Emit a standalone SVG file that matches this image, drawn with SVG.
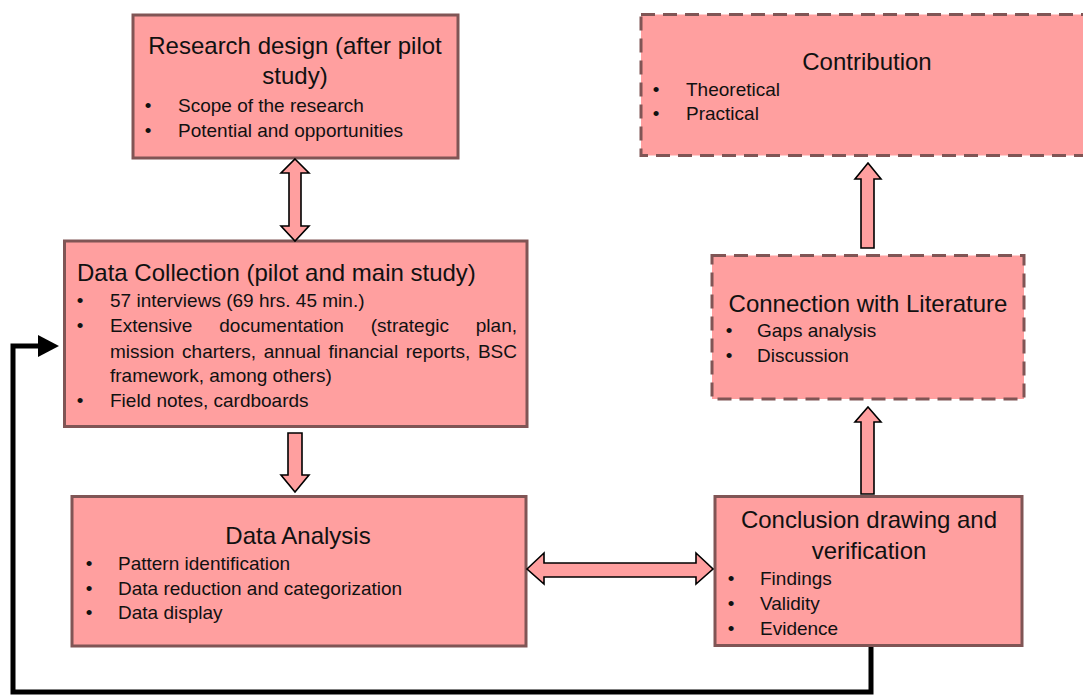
<svg xmlns="http://www.w3.org/2000/svg" width="1083" height="695" viewBox="0 0 1083 695">
<style>
.box{fill:#FF9F9F;stroke:#805555;stroke-width:3}
.dash{stroke-dasharray:14 8}
.t{font-family:"Liberation Sans",Arial,sans-serif;fill:#111}
.title{font-size:24px}
.b{font-size:19px}
.c{text-anchor:middle}
.arrow{fill:#FF9F9F;stroke:#000;stroke-width:1.6;stroke-linejoin:miter}
.fb{fill:none;stroke:#000;stroke-width:5;stroke-linejoin:miter}
</style>
<rect width="1083" height="695" fill="#fff"/>
<g id="research-design">
<rect class="box" x="133" y="15" width="325" height="143"/>
<text class="t title c" x="295" y="54">Research design (after pilot</text>
<text class="t title c" x="295" y="84">study)</text>
<text class="t b c" x="148" y="112">•</text><text class="t b" x="178" y="112">Scope of the research</text>
<text class="t b c" x="148" y="137">•</text><text class="t b" x="178" y="137">Potential and opportunities</text>
</g>
<g id="contribution">
<rect class="box dash" x="641" y="14.5" width="450" height="141"/>
<text class="t title c" x="867" y="70">Contribution</text>
<text class="t b c" x="656" y="96">•</text><text class="t b" x="686" y="96">Theoretical</text>
<text class="t b c" x="656" y="120">•</text><text class="t b" x="686" y="120">Practical</text>
</g>
<g id="data-collection">
<rect class="box" x="64.5" y="241" width="462.5" height="185.5"/>
<text class="t title" x="77" y="281">Data Collection (pilot and main study)</text>
<text class="t b c" x="80" y="307">•</text><text class="t b" x="110" y="307">57 interviews (69 hrs. 45 min.)</text>
<text class="t b c" x="80" y="332">•</text>
<text class="t b" y="332"><tspan x="110">Extensive</tspan><tspan x="219.3">documentation</tspan><tspan x="370.8">(strategic</tspan><tspan x="475.8">plan,</tspan></text>
<text class="t b" y="358"><tspan x="110">mission</tspan><tspan x="182.1">charters,</tspan><tspan x="263.7">annual</tspan><tspan x="328.4">financial</tspan><tspan x="405.8">reports,</tspan><tspan x="477.9">BSC</tspan></text>
<text class="t b" x="110" y="382">framework, among others)</text>
<text class="t b c" x="80" y="407">•</text><text class="t b" x="110" y="407">Field notes, cardboards</text>
</g>
<g id="connection-literature">
<rect class="box dash" x="712" y="255.5" width="312" height="143.5"/>
<text class="t title c" x="868" y="312">Connection with Literature</text>
<text class="t b c" x="729" y="337">•</text><text class="t b" x="757" y="337">Gaps analysis</text>
<text class="t b c" x="729" y="362">•</text><text class="t b" x="757" y="362">Discussion</text>
</g>
<g id="data-analysis">
<rect class="box" x="72" y="496.5" width="454" height="149.5"/>
<text class="t title c" x="298" y="544">Data Analysis</text>
<text class="t b c" x="89" y="570">•</text><text class="t b" x="118" y="570">Pattern identification</text>
<text class="t b c" x="89" y="595">•</text><text class="t b" x="118" y="595">Data reduction and categorization</text>
<text class="t b c" x="89" y="619">•</text><text class="t b" x="118" y="619">Data display</text>
</g>
<g id="conclusion">
<rect class="box" x="715" y="496.5" width="307" height="149"/>
<text class="t title c" x="869" y="528">Conclusion drawing and</text>
<text class="t title c" x="869" y="559">verification</text>
<text class="t b c" x="731" y="585">•</text><text class="t b" x="760" y="585">Findings</text>
<text class="t b c" x="731" y="610">•</text><text class="t b" x="760" y="610">Validity</text>
<text class="t b c" x="731" y="635">•</text><text class="t b" x="760" y="635">Evidence</text>
</g>
<g id="connectors">
<path class="arrow" d="M295,159 L309,173 L301,173 L301,226 L309,226 L295,241 L281,226 L289,226 L289,173 L281,173 Z"/>
<path class="arrow" d="M288,433 L302,433 L302,475 L309,475 L295,492 L281,475 L288,475 Z"/>
<path class="arrow" d="M868,163 L881,179 L874,179 L874,248 L861,248 L861,179 L855,179 Z"/>
<path class="arrow" d="M868,407 L881,422 L874,422 L874,494 L861,494 L861,422 L855,422 Z"/>
<path class="arrow" d="M527,569 L544,553 L544,563 L696,563 L696,553 L713,569 L696,584 L696,577 L544,577 L544,584 Z"/>
<polyline class="fb" points="871,647 871,692 13,692 13,346 40,346"/>
<polygon points="38,335 59,346 38,357" fill="#000"/>
</g>
</svg>
